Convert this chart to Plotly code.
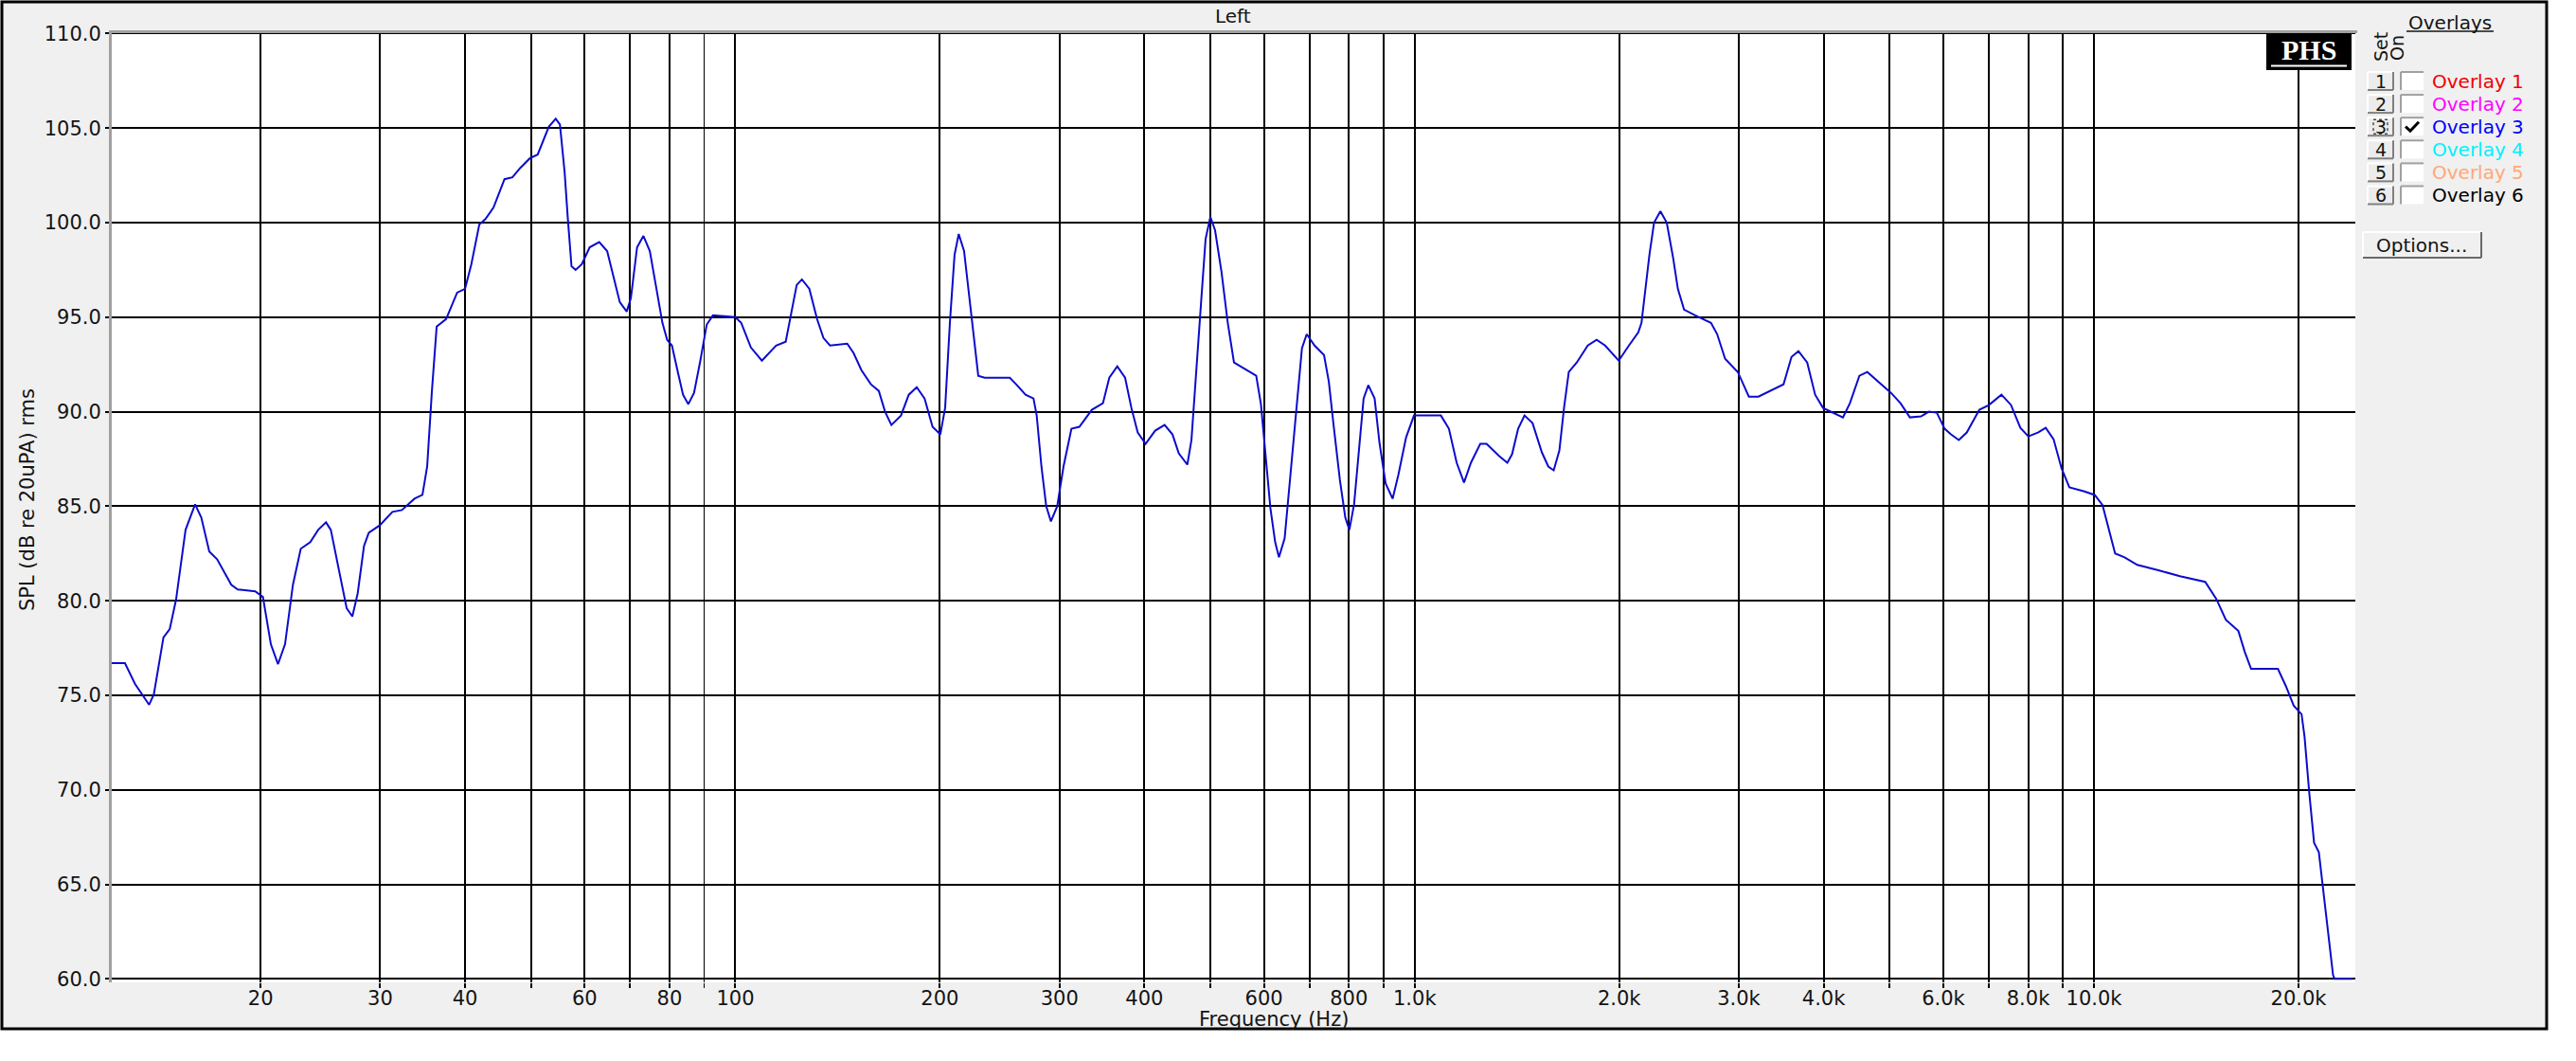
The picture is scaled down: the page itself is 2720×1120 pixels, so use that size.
import math
import plotly.graph_objects as go

# ---------------- data ----------------
freq_hz = [
    12.0, 12.63, 13.07, 13.71, 13.93, 14.39, 14.70, 15.02, 15.51, 16.02,
    16.36, 16.81, 17.26, 18.11, 18.51, 19.64, 20.16, 20.71, 21.22, 21.73,
    22.32, 22.92, 23.67, 24.31, 24.97, 25.38, 26.06, 26.78, 27.30, 27.80,
    28.40, 28.86, 29.97, 31.27, 32.29, 33.70, 34.62, 35.18, 35.75, 36.33,
    37.51, 38.94, 40.00, 40.86,
    41.98, 42.88, 44.05, 45.72, 46.97, 48.24, 49.81, 51.16, 53.13, 54.39,
    55.17, 56.05, 56.65, 57.38, 58.18, 59.41, 61.03, 63.03, 64.75, 66.14,
    67.58, 69.18, 70.17, 71.67, 73.22, 74.83, 76.43, 78.09, 79.36, 80.65,
    82.40, 83.74, 85.26, 86.93, 88.80, 90.73, 92.67, 99.9, 102.0, 105.4,
    109.4, 114.8, 118.6, 120.5, 123.1, 125.3, 128.5, 131.9, 134.8, 137.8,
    146.1, 149.3, 153.3, 158.3,
    162.6, 166.1, 169.7, 175.3, 180.0, 184.9, 189.9, 195.1, 200.3, 203.6,
    206.9, 210.2, 213.2, 217.1, 220.6, 224.2, 227.8, 232.8, 253.5, 259.0,
    267.4, 274.7, 277.7, 282.2, 286.8, 291.4, 297.7, 304.1, 312.4, 320.9,
    334.8, 347.6, 355.2, 364.9, 374.7, 382.8, 391.1, 401.7, 414.9, 428.4,
    440.0, 449.5, 462.7, 469.2, 476.7, 484.4, 492.3, 500.3, 508.3, 519.5,
    530.7, 542.0, 559.8,
    584.4, 593.8, 603.4, 613.2, 623.2, 631.2, 643.5, 654.0, 668.0, 682.4,
    693.5, 712.3, 735.4, 747.4, 759.6, 776.0, 790.4, 801.4, 814.3, 827.5,
    841.0, 854.6, 873.0, 887.2, 906.2, 927.9, 946.0, 971.4, 997.7, 1093,
    1123, 1153, 1182, 1210, 1249, 1276, 1332, 1369, 1391, 1420,
    1451, 1491, 1539, 1573, 1602, 1633, 1659, 1686, 1732, 1798,
    1853, 1907, 1997, 2067,
    2134, 2157, 2180, 2216, 2251, 2300, 2350, 2401, 2440, 2492,
    2587, 2730, 2788, 2864, 2990, 3104, 3206, 3381, 3491, 3587,
    3672, 3783, 3886, 3992, 4144, 4270, 4372, 4515, 4638, 4814,
    5025, 5190, 5358, 5562, 5714, 5869, 6028, 6158, 6324, 6497,
    6780, 7002, 7307, 7547, 7792, 8005, 8268, 8491, 8719, 8959,
    9199, 9654, 10023, 10294, 10517, 10742, 11093, 11580, 12481, 13384,
    14578, 15136, 15632, 16314, 16670, 17031, 17777, 18652, 19157, 19680,
    20209, 20417, 20749, 21086, 21429, 21777, 22126, 22486, 22611, 24000,
]

spl_db = [
    76.7, 76.7, 75.6, 74.5, 75.05, 78.06, 78.5, 80.07, 83.75, 85.1,
    84.4, 82.6, 82.2, 80.85, 80.6, 80.5, 80.2, 77.7, 76.65, 77.7,
    80.85, 82.75, 83.1, 83.75, 84.15, 83.75, 81.7, 79.6, 79.17, 80.4,
    82.9, 83.6, 84.0, 84.7, 84.8, 85.4, 85.6, 87.1, 91.1, 94.5,
    94.9, 96.3, 96.5, 97.8,
    99.9, 100.2, 100.8, 102.3, 102.4, 102.9, 103.4, 103.6, 105.07, 105.5,
    105.2, 102.7, 100.3, 97.7, 97.5, 97.8, 98.7, 98.97, 98.5, 97.1,
    95.8, 95.3, 96.0, 98.7, 99.3, 98.5, 96.7, 94.7, 93.8, 93.5,
    92.0, 90.9, 90.4, 91.0, 92.7, 94.6, 95.1, 95.0, 94.7, 93.4,
    92.7, 93.5, 93.7, 95.0, 96.7, 97.0, 96.5, 94.9, 93.9, 93.5,
    93.6, 93.1, 92.2, 91.45,
    91.1, 90.0, 89.3, 89.8, 90.9, 91.3, 90.7, 89.2, 88.8, 90.2,
    94.7, 98.3, 99.4, 98.5, 96.3, 93.8, 91.9, 91.8, 91.8, 91.45,
    90.9, 90.7, 89.8, 87.1, 85.0, 84.2, 85.0, 87.1, 89.1, 89.2,
    90.1, 90.45, 91.8, 92.4, 91.8, 90.2, 88.9, 88.3, 89.0, 89.3,
    88.8, 87.8, 87.2, 88.5, 92.3, 95.6, 99.15, 100.3, 99.6, 97.4,
    94.7, 92.6, 92.3,
    91.9, 90.4, 87.5, 84.9, 83.1, 82.3, 83.3, 86.0, 89.8, 93.35,
    94.1, 93.5, 93.0, 91.6, 89.3, 86.4, 84.4, 83.75, 85.1, 87.8,
    90.7, 91.4, 90.7, 88.4, 86.2, 85.4, 86.65, 88.65, 89.8, 89.8,
    89.1, 87.3, 86.25, 87.3, 88.3, 88.3, 87.65, 87.3, 87.75, 89.1,
    89.8, 89.4, 87.85, 87.1, 86.9, 87.95, 90.2, 92.1, 92.6, 93.5,
    93.8, 93.5, 92.7, 93.5,
    94.2, 94.7, 96.25, 98.3, 100.0, 100.6, 100.0, 98.15, 96.5, 95.4,
    95.1, 94.7, 94.1, 92.8, 92.1, 90.8, 90.8, 91.2, 91.45, 92.9,
    93.2, 92.6, 90.9, 90.2, 89.9, 89.7, 90.45, 91.9, 92.1, 91.6,
    91.0, 90.45, 89.7, 89.75, 90.0, 89.95, 89.1, 88.8, 88.5, 88.9,
    90.1, 90.35, 90.9, 90.36, 89.15, 88.7, 88.9, 89.15, 88.55, 87.0,
    86.0, 85.8, 85.6, 85.06, 83.7, 82.5, 82.3, 81.9, 81.6, 81.3,
    81.0, 80.1, 79.0, 78.4, 77.3, 76.4, 76.4, 76.4, 75.5, 74.45,
    74.0, 72.8, 69.8, 67.2, 66.7, 64.6, 62.5, 60.2, 60.0, 60.0,
]

x_grid_vals = [20, 30, 40, 50, 60, 70, 80, 100, 200, 300, 400, 500, 600, 700, 800, 900,
               1000, 2000, 3000, 4000, 5000, 6000, 7000, 8000, 9000, 10000, 20000]
x_grid_text = ["20", "30", "40", "", "60", "", "80", "100", "200", "300", "400", "", "600", "", "800", "",
               "1.0k", "2.0k", "3.0k", "4.0k", "", "6.0k", "", "8.0k", "", "10.0k", "20.0k"]
x_thin_grid = [90]
y_tick_vals = [60, 65, 70, 75, 80, 85, 90, 95, 100, 105, 110]
y_tick_text = ["60.0", "65.0", "70.0", "75.0", "80.0", "85.0", "90.0", "95.0", "100.0", "105.0", "110.0"]

overlay_names = ["Overlay 1", "Overlay 2", "Overlay 3", "Overlay 4", "Overlay 5", "Overlay 6"]
overlay_colors = ["#f00000", "#ff00ff", "#0000ff", "#00f0ff", "#ffa878", "#000000"]
overlay_on = [False, False, True, False, False, False]

# ---------------- layout geometry (pixels) ----------------
W, H = 2720, 1120
L, R, T, B = 116, 2487, 32, 1037
FONT = "DejaVu Sans"
TXT = "#141414"


def px(x):
    return (x - L) / (R - L)


def py(y):
    return (B - y) / (B - T)


shapes = []
annots = []


def rect(x0, y0, x1, y1, fill=None, line=None, lw=0, dash=None):
    ln = dict(color=line if line else "rgba(0,0,0,0)", width=lw)
    if dash:
        ln["dash"] = dash
    shapes.append(dict(type="rect", xref="paper", yref="paper",
                       x0=px(x0), x1=px(x1), y0=py(y1), y1=py(y0),
                       fillcolor=fill if fill else "rgba(0,0,0,0)", line=ln))


def seg(x0, y0, x1, y1, color, lw):
    shapes.append(dict(type="line", xref="paper", yref="paper",
                       x0=px(x0), x1=px(x1), y0=py(y0), y1=py(y1),
                       line=dict(color=color, width=lw)))


def text(x, y, s, size, color=TXT, xanchor="center", family=FONT, angle=0):
    annots.append(dict(xref="paper", yref="paper", x=px(x), y=py(y), text=s,
                       showarrow=False, xanchor=xanchor, yanchor="middle",
                       textangle=angle, font=dict(family=family, size=size, color=color)))


# outer frame
rect(2690, 0, 2720, 1120, fill="white")
rect(0, 1087, 2720, 1120, fill="white")
rect(2, 2, 2689, 1086, line="black", lw=3)

# plot borders (grey, top and left)
seg(L, 33.5, 2489, 33.5, "#a0a0a0", 3)
seg(116.5, T, 116.5, B, "#a0a0a0", 3)

# titles
text((L + R) / 2, 17, "Left", 20)
text(1345, 1076, "Frequency (Hz)", 21)
text(29, 528, "SPL (dB re 20uPA) rms", 21, angle=-90)

# PHS logo
rect(2393, 36, 2483, 74, fill="black")
text(2438, 52, "<b>PHS</b>", 30, color="white", family="Liberation Serif")
seg(2398, 69.5, 2478, 69.5, "white", 2)

# overlays panel
text(2587, 24, "Overlays", 20)
seg(2541, 33, 2633, 33, TXT, 1.5)
text(2514, 50, "Set", 19, angle=-90)
text(2531, 51, "On", 19, angle=-90)

for i, (name, col, on) in enumerate(zip(overlay_names, overlay_colors, overlay_on)):
    cy = 85.5 + 24.1 * i
    # button
    rect(2500, cy - 9.5, 2527, cy + 9.5, fill="#ececec")
    seg(2500, cy - 9.5, 2527, cy - 9.5, "white", 2)
    seg(2500, cy - 9.5, 2500, cy + 9.5, "white", 2)
    seg(2500, cy + 9.5, 2527, cy + 9.5, "#808080", 2)
    seg(2527, cy - 9.5, 2527, cy + 9.5, "#808080", 2)
    text(2513.5, cy, str(i + 1), 19)
    if on:
        rect(2506, cy - 7.5, 2521, cy + 7.5, line="black", lw=1, dash="dot")
    # checkbox
    rect(2535, cy - 9.5, 2559, cy + 9.5, fill="white")
    seg(2535, cy - 9.5, 2559, cy - 9.5, "#a0a0a0", 2)
    seg(2535, cy - 9.5, 2535, cy + 9.5, "#a0a0a0", 2)
    if on:
        shapes.append(dict(type="path", xref="paper", yref="paper",
                           path="M {} {} L {} {} L {} {}".format(
                               px(2540), py(cy), px(2545), py(cy + 4.5), px(2554), py(cy - 5)),
                           line=dict(color="black", width=3)))
    text(2566, cy, name, 20, color=col, xanchor="left")

# options button
rect(2495, 245, 2620, 272, fill="#f0f0f0")
seg(2495, 245, 2620, 245, "white", 2)
seg(2495, 245, 2495, 272, "white", 2)
seg(2495, 272, 2620, 272, "#696969", 2)
seg(2620, 245, 2620, 272, "#696969", 2)
text(2557, 258.5, "Options...", 20)

# ---------------- figure ----------------
fig = go.Figure()
fig.add_trace(go.Scatter(x=freq_hz, y=spl_db, mode="lines",
                         line=dict(color="#0B0BCC", width=2),
                         showlegend=False, hoverinfo="skip"))

fig.update_layout(
    width=W, height=H, autosize=False,
    margin=dict(l=L, r=W - R, t=T, b=H - B, pad=0),
    paper_bgcolor="#f0f0f0", plot_bgcolor="white",
    showlegend=False,
    shapes=shapes, annotations=annots,
    xaxis=dict(
        type="log", range=[math.log10(12), math.log10(24250)],
        tickmode="array", tickvals=x_grid_vals, ticktext=x_grid_text,
        showgrid=True, gridcolor="black", gridwidth=2,
        ticks="outside", ticklen=5, tickwidth=2, tickcolor="black",
        ticklabelstandoff=-7,
        tickfont=dict(family=FONT, size=21, color=TXT),
        showline=False, zeroline=False,
        minor=dict(tickvals=x_thin_grid, showgrid=True, gridcolor="black", gridwidth=1,
                   ticks="outside", ticklen=5, tickwidth=1, tickcolor="black"),
    ),
    yaxis=dict(
        range=[59.815, 110.175],
        tickmode="array", tickvals=y_tick_vals, ticktext=y_tick_text,
        showgrid=True, gridcolor="black", gridwidth=2,
        ticks="outside", ticklen=4, tickwidth=2, tickcolor="black",
        tickfont=dict(family=FONT, size=21, color=TXT),
        showline=False, zeroline=False,
    ),
)

fig.write_html("out.html", config={"displayModeBar": False},
               post_script="document.body.style.margin='0';document.body.style.overflow='hidden';")
